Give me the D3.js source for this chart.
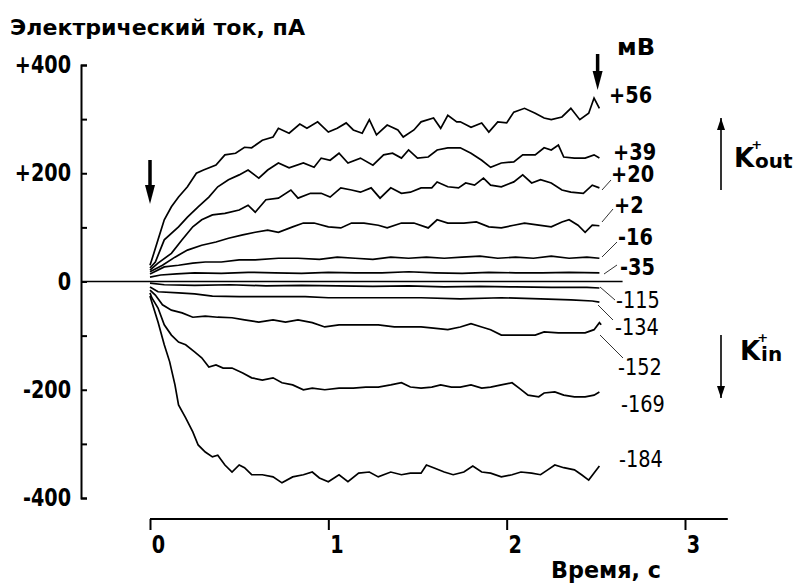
<!DOCTYPE html>
<html>
<head>
<meta charset="utf-8">
<script src="https://cdn.jsdelivr.net/npm/d3@7"></script>
<style>
  body { margin: 0; background: #fff; }
  svg text {
    font-family: "DejaVu Sans", sans-serif;
    fill: #000;
  }
</style>
</head>
<body>
<div class="canvas-container"></div>
<script>
// time in s, current in pA
const tr56 = [[0,30],[0.01,40],[0.045,77],[0.08,114],[0.12,138],[0.16,156],[0.21,175],[0.26,200],[0.30,206],[0.37,215],[0.42,234],[0.48,237],[0.53,248],[0.57,247],[0.63,261],[0.69,267],[0.72,283],[0.78,274],[0.84,291],[0.88,283],[0.94,295],[1.00,276],[1.05,283],[1.10,293],[1.14,280],[1.19,274],[1.23,299],[1.27,271],[1.33,289],[1.39,280],[1.42,267],[1.48,280],[1.52,295],[1.59,302],[1.63,283],[1.67,307],[1.72,295],[1.74,295],[1.80,285],[1.86,293],[1.90,276],[1.95,295],[2.00,293],[2.04,313],[2.10,320],[2.16,311],[2.21,302],[2.25,299],[2.31,304],[2.36,320],[2.41,299],[2.46,311],[2.49,339],[2.52,320]]
const tr39 = [[0,25],[0.03,36],[0.08,77],[0.16,101],[0.21,119],[0.27,138],[0.33,156],[0.38,175],[0.44,188],[0.50,197],[0.55,206],[0.61,191],[0.66,206],[0.72,219],[0.78,210],[0.86,219],[0.92,211],[0.96,228],[1.01,224],[1.06,237],[1.11,219],[1.18,228],[1.25,215],[1.31,234],[1.36,237],[1.41,228],[1.45,243],[1.50,228],[1.56,230],[1.61,243],[1.67,247],[1.74,247],[1.80,237],[1.86,224],[1.91,211],[1.97,219],[2.04,221],[2.09,234],[2.16,234],[2.21,247],[2.25,243],[2.29,252],[2.32,230],[2.38,228],[2.44,228],[2.49,234],[2.52,228]]
const tr20 = [[0,21],[0.045,34],[0.12,52],[0.18,77],[0.24,101],[0.29,114],[0.35,123],[0.42,126],[0.50,132],[0.55,141],[0.59,128],[0.65,151],[0.72,154],[0.79,169],[0.83,154],[0.90,163],[0.96,163],[1.01,156],[1.07,173],[1.13,169],[1.18,165],[1.24,173],[1.29,154],[1.35,173],[1.41,163],[1.46,165],[1.52,173],[1.58,173],[1.61,184],[1.67,175],[1.73,173],[1.77,182],[1.82,178],[1.87,191],[1.91,178],[1.97,175],[2.04,184],[2.09,197],[2.14,182],[2.19,188],[2.25,182],[2.31,169],[2.36,165],[2.43,163],[2.48,178],[2.52,173]]
const tr2 = [[0,18],[0.07,30],[0.14,45],[0.21,58],[0.29,67],[0.37,73],[0.44,80],[0.52,86],[0.59,91],[0.66,95],[0.72,91],[0.80,101],[0.86,108],[0.92,108],[1.00,101],[1.07,99],[1.13,108],[1.20,108],[1.28,104],[1.33,99],[1.41,108],[1.48,108],[1.56,99],[1.61,114],[1.67,108],[1.76,108],[1.83,110],[1.90,101],[1.97,99],[2.04,104],[2.10,108],[2.18,104],[2.25,101],[2.31,110],[2.35,114],[2.40,104],[2.44,91],[2.48,104],[2.52,103]]
const trM16 = [[0,14],[0.08,27],[0.16,30],[0.24,34],[0.31,36],[0.40,36],[0.50,40],[0.59,40],[0.72,43],[0.83,43],[0.95,41],[1.05,45],[1.15,43],[1.25,41],[1.35,45],[1.45,43],[1.55,45],[1.65,43],[1.75,45],[1.85,47],[1.95,43],[2.05,45],[2.15,43],[2.25,47],[2.35,43],[2.45,45],[2.52,43]]
const trM35 = [[0,8],[0.06,12],[0.15,14],[0.25,16],[0.40,15],[0.55,17],[0.70,16],[0.85,15],[1.00,17],[1.15,16],[1.30,16],[1.45,18],[1.60,16],[1.75,15],[1.90,17],[2.05,16],[2.20,16],[2.35,17],[2.52,16]]
const trM115 = [[0,-3],[0.08,-6],[0.25,-7],[0.45,-6],[0.65,-8],[0.85,-7],[1.05,-8],[1.25,-9],[1.45,-8],[1.65,-10],[1.85,-9],[2.05,-10],[2.25,-11],[2.45,-11],[2.52,-12]]
const trM134 = [[0,-10],[0.045,-19],[0.16,-21],[0.25,-23],[0.35,-27],[0.50,-28],[0.72,-28],[0.87,-28],[1.00,-30],[1.19,-30],[1.32,-30],[1.52,-30],[1.74,-32],[1.97,-30],[2.19,-32],[2.36,-34],[2.48,-36],[2.52,-38]]
const trM152 = [[0,-16],[0.03,-25],[0.07,-43],[0.12,-53],[0.18,-58],[0.24,-66],[0.31,-64],[0.38,-66],[0.46,-67],[0.53,-71],[0.61,-75],[0.69,-71],[0.76,-75],[0.83,-71],[0.91,-76],[0.98,-84],[1.06,-80],[1.14,-80],[1.21,-80],[1.28,-80],[1.37,-84],[1.45,-84],[1.52,-84],[1.59,-86],[1.67,-89],[1.74,-84],[1.80,-78],[1.86,-84],[1.91,-89],[1.97,-99],[2.04,-99],[2.10,-99],[2.16,-99],[2.21,-93],[2.29,-95],[2.36,-95],[2.44,-95],[2.49,-89],[2.52,-76],[2.53,-80]]
const trM169 = [[0,-21],[0.01,-30],[0.045,-49],[0.08,-80],[0.12,-99],[0.16,-112],[0.20,-117],[0.25,-130],[0.29,-141],[0.33,-158],[0.37,-154],[0.41,-160],[0.46,-160],[0.52,-169],[0.57,-178],[0.63,-182],[0.69,-178],[0.74,-187],[0.80,-191],[0.86,-200],[0.91,-197],[0.98,-200],[1.06,-197],[1.14,-197],[1.21,-195],[1.28,-195],[1.35,-191],[1.41,-187],[1.46,-195],[1.52,-197],[1.58,-195],[1.63,-191],[1.69,-195],[1.74,-195],[1.80,-191],[1.86,-197],[1.91,-195],[1.97,-191],[2.03,-187],[2.07,-197],[2.12,-210],[2.18,-213],[2.21,-206],[2.27,-204],[2.32,-210],[2.38,-213],[2.44,-213],[2.49,-210],[2.52,-204]]
const trM184 = [[0,-27],[0.01,-38],[0.045,-75],[0.08,-117],[0.11,-148],[0.14,-191],[0.16,-228],[0.20,-252],[0.24,-278],[0.27,-302],[0.31,-315],[0.35,-324],[0.38,-321],[0.42,-339],[0.46,-352],[0.50,-339],[0.53,-344],[0.57,-357],[0.63,-357],[0.69,-361],[0.74,-372],[0.80,-361],[0.86,-357],[0.91,-352],[0.95,-363],[1.00,-370],[1.06,-357],[1.11,-370],[1.17,-354],[1.23,-352],[1.28,-361],[1.35,-352],[1.41,-357],[1.46,-354],[1.52,-354],[1.55,-339],[1.59,-344],[1.65,-352],[1.70,-357],[1.76,-352],[1.81,-341],[1.86,-352],[1.91,-354],[1.97,-361],[2.03,-357],[2.08,-352],[2.14,-354],[2.19,-357],[2.23,-348],[2.27,-339],[2.32,-344],[2.38,-348],[2.42,-357],[2.46,-367],[2.49,-354],[2.52,-341]]

const voltages = ["+56", "+39", "+20", "+2", "-16", "-35", "-115", "-134", "-152", "-169", "-184"]
const yTicks = [-400, -300, -200, -100, 0, 100, 200, 300, 400]
const yLabels = [-400, -200, 0, 200, 400]
const xTicks = [0, 1, 2, 3]
const stimOn = 0
const stimOff = 2.51

const traces = [tr56, tr39, tr20, tr2, trM16, trM35, trM115, trM134, trM152, trM169, trM184]

const w = 796
const h = 584

// label layout: [x, baseline, leader x1, y1, x2, y2] (px)
const labelLayout = [
  [609, 103, null],
  [613, 160, null],
  [611, 182, 602, 190, 611, 180],
  [614, 213, 602, 222, 613, 209],
  [618, 245, 602, 257, 617, 242],
  [620, 275, 604, 274, 617, 265],
  [616, 308, 600, 287, 615, 300],
  [615, 335, 598, 305, 613, 320],
  [618, 375, 600, 335, 623, 358],
  [621, 412, null],
  [619, 467, null],
]

// squeeze text horizontally so the wide font looks like the narrow original
const condense = (sel, k) => {
  sel.each(function () {
    const len = this.getComputedTextLength()
    d3.select(this).attr("textLength", len * k).attr("lengthAdjust", "spacingAndGlyphs")
  })
}

const svg = d3
  .select(".canvas-container")
  .append("svg")
  .attr("width", w)
  .attr("height", h)

const x = d3.scaleLinear().domain([0, 3]).range([150, 685])
const y = d3.scaleLinear().domain([-400, 400]).range([498, 65])
const yAxisX = 81

// title
svg
  .append("text")
  .attr("x", 10)
  .attr("y", 35)
  .attr("font-size", 22)
  .attr("font-weight", "bold")
  .attr("textLength", 295)
  .attr("lengthAdjust", "spacingAndGlyphs")
  .text("Электрический ток, пА")

// y axis: ticks every 100 pointing inward, labels every 200
svg
  .append("g")
  .attr("transform", `translate(${yAxisX},0)`)
  .call(d3.axisLeft(y).tickValues(yTicks).tickSizeInner(-6).tickSizeOuter(-6).tickFormat(""))
  .call((g) => g.selectAll("path, line").attr("stroke", "#000").attr("stroke-width", 2))

svg
  .append("g")
  .attr("transform", `translate(${yAxisX},0)`)
  .call(
    d3
      .axisLeft(y)
      .tickValues(yLabels)
      .tickSize(0)
      .tickPadding(10)
      .tickFormat((d) => (d > 0 ? "+" + d : d))
  )
  .call((g) => g.select(".domain").remove())
  .call((g) =>
    g.selectAll("text").attr("font-size", 24).attr("font-weight", "bold").attr("font-family", null)
  )
  .call((g) => condense(g.selectAll("text"), 0.8))

// x axis
const xAxisG = svg
  .append("g")
  .attr("transform", "translate(0,519)")
  .call(
    d3
      .axisBottom(x)
      .tickValues(xTicks)
      .tickSizeInner(11)
      .tickSizeOuter(0)
      .tickPadding(6)
      .tickFormat(d3.format("d"))
  )

xAxisG.select(".domain").attr("d", `M${x(0)},0H${x(3.24)}`)
xAxisG.selectAll("path, line").attr("stroke", "#000").attr("stroke-width", 2)
xAxisG
  .selectAll("text")
  .attr("x", 8)
  .attr("font-size", 24)
  .attr("font-weight", "bold")
  .attr("font-family", null)
condense(xAxisG.selectAll("text"), 0.8)

svg
  .append("text")
  .attr("x", 551)
  .attr("y", 578)
  .attr("font-size", 23)
  .attr("font-weight", "bold")
  .attr("textLength", 110)
  .attr("lengthAdjust", "spacingAndGlyphs")
  .text("Время, с")

// zero baseline
svg
  .append("line")
  .attr("x1", yAxisX)
  .attr("x2", x(2.65))
  .attr("y1", y(0))
  .attr("y2", y(0))
  .attr("stroke", "#000")
  .attr("stroke-width", 1.5)

// traces
const line = d3
  .line()
  .x((d) => x(d[0]))
  .y((d) => y(d[1]))

svg
  .selectAll(".trace")
  .data(traces)
  .enter()
  .append("path")
  .attr("class", "trace")
  .attr("d", line)
  .attr("fill", "none")
  .attr("stroke", "#000")
  .attr("stroke-width", 1.7)
  .attr("stroke-linejoin", "miter")

// voltage labels + leaders
svg
  .append("text")
  .attr("x", 617)
  .attr("y", 55)
  .attr("font-size", 23)
  .attr("font-weight", "bold")
  .attr("textLength", 38)
  .attr("lengthAdjust", "spacingAndGlyphs")
  .text("мВ")

const vLabels = svg
  .selectAll(".vlabel")
  .data(voltages)
  .enter()
  .append("text")
  .attr("class", "vlabel")
  .attr("x", (d, i) => labelLayout[i][0])
  .attr("y", (d, i) => labelLayout[i][1])
  .attr("font-size", 23)
  .attr("font-weight", (d, i) => (i < 6 ? "bold" : "normal"))
  .text((d) => d)
condense(vLabels, 0.84)

svg
  .selectAll(".leader")
  .data(labelLayout.filter((l) => l[2] != null))
  .enter()
  .append("line")
  .attr("class", "leader")
  .attr("x1", (d) => d[2])
  .attr("y1", (d) => d[3])
  .attr("x2", (d) => d[4])
  .attr("y2", (d) => d[5])
  .attr("stroke", "#333")
  .attr("stroke-width", 1)

// stimulus arrows (on / off)
const stimArrow = (cx, top, bottom) => {
  svg
    .append("line")
    .attr("x1", cx)
    .attr("x2", cx)
    .attr("y1", top)
    .attr("y2", bottom - 12)
    .attr("stroke", "#000")
    .attr("stroke-width", 3.5)
  svg
    .append("path")
    .attr("d", `M${cx - 5},${bottom - 19}L${cx + 5},${bottom - 19}L${cx},${bottom}Z`)
    .attr("fill", "#000")
}
stimArrow(x(stimOn), 160, 204)
stimArrow(x(stimOff), 54, 90)

// K+ direction arrows
const kArrow = (cx, from, to) => {
  const dir = to > from ? 1 : -1
  svg
    .append("line")
    .attr("x1", cx)
    .attr("x2", cx)
    .attr("y1", from)
    .attr("y2", to)
    .attr("stroke", "#000")
    .attr("stroke-width", 1.6)
  svg
    .append("path")
    .attr("d", `M${cx - 4},${to - dir * 12}L${cx + 4},${to - dir * 12}L${cx},${to}Z`)
    .attr("fill", "#000")
}
kArrow(721, 190, 118)
kArrow(721, 335, 398)

// K with superscript "+" and a subscript, as one text
const kLabel = (x0, base, sub) => {
  const t = svg
    .append("text")
    .attr("x", x0)
    .attr("y", base)
    .attr("font-weight", "bold")
  t.append("tspan").attr("font-size", 26).text("K")
  t.append("tspan").attr("font-size", 13).attr("dx", -3).attr("dy", -18).text("+")
  t.append("tspan").attr("font-size", 20).attr("dx", -7).attr("dy", 19).text(sub)
}
kLabel(734, 167, "out")
kLabel(740, 360, "in")
</script>
</body>
</html>
